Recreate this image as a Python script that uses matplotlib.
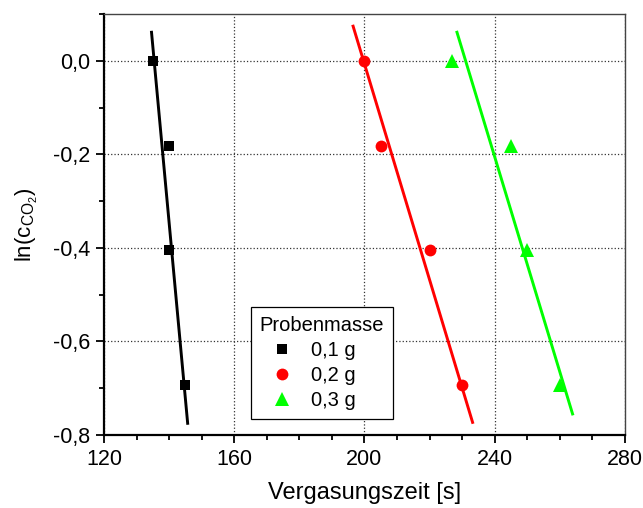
import numpy as np
import matplotlib
matplotlib.use('Agg')
import matplotlib.pyplot as plt
from matplotlib.ticker import MultipleLocator, FuncFormatter

plt.rcParams['font.family'] = ['Liberation Sans', 'DejaVu Sans']

# ln of relative CO2 concentration vs. gasification time
ln_c = [0.0, -0.182, -0.405, -0.693]
t_01 = [135, 140, 140, 145]
t_02 = [200, 205, 220, 230]
t_03 = [227, 245, 250, 260]

# linear fit lines (start / end points)
fit_01_x = [134.6, 145.7]
fit_01_y = [0.061, -0.775]
fit_02_x = [196.5, 233.2]
fit_02_y = [0.074, -0.773]
fit_03_x = [228.4, 263.9]
fit_03_y = [0.061, -0.755]

labels = ['0,1 g', '0,2 g', '0,3 g']
colors = ['black', '#ff0000', '#00ff00']
markers = ['s', 'o', '^']
sizes = [7.5, 8.5, 10]

fig = plt.figure(figsize=(6.43, 5.08), dpi=100)
ax = fig.add_axes([0.1617, 0.1437, 0.8103, 0.8287])

series = [(t_01, fit_01_x, fit_01_y), (t_02, fit_02_x, fit_02_y), (t_03, fit_03_x, fit_03_y)]
for (t, fx, fy), lab, col, mk, ms in zip(series, labels, colors, markers, sizes):
    ax.plot(t, ln_c, linestyle='none', marker=mk, color=col, markersize=ms,
            markeredgewidth=0, label=lab, zorder=3)
    ax.plot(fx, fy, color=col, linewidth=2.1, zorder=2)

ax.set_xlim(120, 280)
ax.set_ylim(-0.8, 0.1)
ax.xaxis.set_major_locator(MultipleLocator(40))
ax.xaxis.set_minor_locator(MultipleLocator(10))
ax.yaxis.set_major_locator(MultipleLocator(0.2))
ax.yaxis.set_minor_locator(MultipleLocator(0.1))
ax.yaxis.set_major_formatter(FuncFormatter(lambda v, p: f'{v:.1f}'.replace('.', ',').replace('-0,0', '0,0')))

ax.tick_params(which='both', direction='out', top=False, right=False, labelsize=15.5, width=1.3)
ax.tick_params(which='major', length=6, pad=4)
ax.tick_params(which='minor', length=3.6)

ax.grid(True, which='major', linestyle=':', color='#333333', linewidth=0.9)

for s in ['left', 'bottom']:
    ax.spines[s].set_linewidth(1.6)
for s in ['top', 'right']:
    ax.spines[s].set_linewidth(1.0)
    ax.spines[s].set_color('#444444')

ax.set_xlabel('Vergasungszeit [s]', fontsize=17, labelpad=9)
ax.set_ylabel(r'$\mathregular{ln(c_{CO_2})}$', fontsize=16, labelpad=9)

leg = ax.legend(title='Probenmasse', loc='lower left', bbox_to_anchor=(0.2816, 0.037),
                fontsize=14.5, title_fontsize=14.5, fancybox=False, edgecolor='black',
                framealpha=1, handlelength=2.2, handletextpad=0.35, labelspacing=0.3,
                borderpad=0.45, borderaxespad=0)
leg._legend_box.align = 'left'
leg.get_frame().set_linewidth(0.9)

fig.savefig('out.png', dpi=100)
